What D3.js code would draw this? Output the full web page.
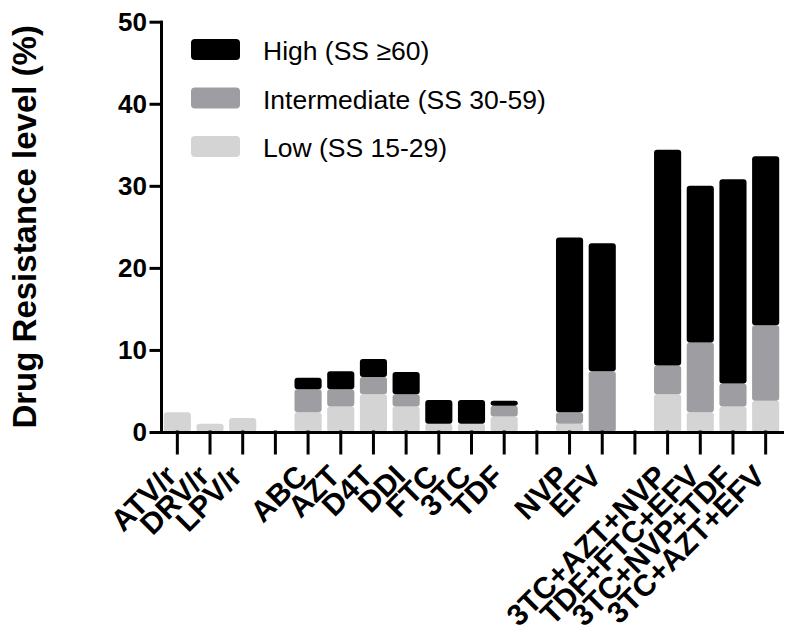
<!DOCTYPE html>
<html>
<head>
<meta charset="utf-8">
<script src="https://cdn.jsdelivr.net/npm/d3@7"></script>
<style>
  body { margin: 0; background: #fff; }
  svg { display: block; font-family: "Liberation Sans", Arial, sans-serif; }
</style>
</head>
<body>
<script>
// drug categories, "" marks an empty slot between drug classes
var categories = ["ATV/r", "DRV/r", "LPV/r", "",
                  "ABC", "AZT", "D4T", "DDI", "FTC", "3TC", "TDF", "",
                  "NVP", "EFV", "",
                  "3TC+AZT+NVP", "TDF+FTC+EFV", "3TC+NVP+TDF", "3TC+AZT+EFV"];

// resistance levels (%), stacked low -> intermediate -> high
var lowValues = [2.4, 1.0, 1.7, 0,
                 2.4, 3.1, 4.6, 3.1, 1.0, 1.0, 1.9, 0,
                 1.0, 0, 0,
                 4.6, 2.4, 3.1, 3.8];
var intermediateValues = [0, 0, 0, 0,
                          2.8, 2.1, 2.1, 1.5, 0, 0, 1.3, 0,
                          1.4, 7.4, 0,
                          3.5, 8.5, 2.8, 9.2];
var highValues = [0, 0, 0, 0,
                  1.4, 2.2, 2.2, 2.7, 2.9, 2.9, 0.6, 0,
                  21.3, 15.6, 0,
                  26.3, 19.1, 24.9, 20.6];

var yTicks = [0, 10, 20, 30, 40, 50];

var levelKeys = ["low", "intermediate", "high"];
var legendLabels = ["High (SS \u226560)", "Intermediate (SS 30-59)", "Low (SS 15-29)"];
var legendKeys = ["high", "intermediate", "low"];

// set properties for the graph
var w = 800;
var h = 637;
var start_w = 161;
var end_w = 782;
var start_h = 21.7;
var end_h = 432;
var colors = {"low": "#d4d4d4", "intermediate": "#9d9da2", "high": "#000000"};

window.onload = function() {

  var table = categories.map(function(c, i) {
    return {
      "slot": i,
      "name": c,
      "low": lowValues[i],
      "intermediate": intermediateValues[i],
      "high": highValues[i]
    };
  });

  var scales = scale();
  drawChart(table, scales[0], scales[1]);
};


function scale() {
  // one band per slot, gaps included
  var xScale = d3.scaleBand()
                 .domain(d3.range(categories.length))
                 .range([start_w, end_w])
                 .padding(0);

  var yScale = d3.scaleLinear()
                 .domain([0, 50])
                 .range([end_h, start_h]);

  return [xScale, yScale];
}


function drawChart(table, xScale, yScale) {

  var svg = d3.select("body")
              .append("svg")
              .attr("width", w)
              .attr("height", h);

  // stacked bars
  var series = d3.stack().keys(levelKeys)(table);
  var barW = xScale.bandwidth() * 0.83;

  svg.append("g")
     .selectAll("g")
     .data(series)
     .enter()
     .append("g")
     .attr("fill", function(d) { return colors[d.key]; })
     .selectAll("rect")
     .data(function(d) { return d.filter(function(p) { return p[1] - p[0] > 0; }); })
     .enter()
     .append("rect")
     .attr("x", function(d) { return xScale(d.data.slot) + (xScale.bandwidth() - barW) / 2; })
     .attr("y", function(d) { return yScale(d[1]); })
     .attr("width", barW)
     .attr("height", function(d) { return yScale(d[0]) - yScale(d[1]); })
     .attr("rx", 3);

  // y axis
  var yAxis = d3.axisLeft(yScale)
                .tickValues(yTicks)
                .tickSize(10)
                .tickSizeOuter(0)
                .tickPadding(4);

  var gy = svg.append("g")
              .attr("transform", "translate(" + start_w + ",0)")
              .call(yAxis);

  gy.selectAll("text")
    .attr("font-size", 26)
    .attr("font-weight", "bold")
    .attr("fill", "#000")
    .attr("font-family", "Liberation Sans, Arial, sans-serif");

  // x axis, ticks at every slot
  var xAxis = d3.axisBottom(xScale)
                .tickSize(21)
                .tickSizeOuter(0)
                .tickFormat(function(i) { return categories[i]; });

  var gx = svg.append("g")
              .attr("transform", "translate(0," + end_h + ")")
              .call(xAxis);

  gx.selectAll("text")
    .attr("font-size", 30)
    .attr("font-weight", "bold")
    .attr("fill", "#000")
    .attr("font-family", "Liberation Sans, Arial, sans-serif")
    .attr("text-anchor", "end")
    .attr("dy", 0)
    .attr("y", 0)
    .attr("transform", "translate(1,46) rotate(-45)");

  svg.selectAll(".domain, .tick line")
     .attr("stroke", "#000")
     .attr("stroke-width", 3)
     .attr("stroke-linecap", "square");

  // y axis title
  svg.append("text")
     .attr("transform", "translate(36," + (end_h + start_h) / 2 + ") rotate(-90)")
     .attr("text-anchor", "middle")
     .attr("font-size", 33)
     .attr("font-weight", "bold")
     .text("Drug Resistance level (%)");

  // legend
  var legend = svg.append("g")
                  .selectAll("g")
                  .data(legendKeys)
                  .enter()
                  .append("g")
                  .attr("transform", function(d, i) { return "translate(191," + (39 + i * 48.5) + ")"; });

  legend.append("rect")
        .attr("width", 49)
        .attr("height", 21)
        .attr("rx", 4)
        .attr("fill", function(d) { return colors[d]; });

  legend.append("text")
        .attr("x", 72)
        .attr("y", 21)
        .attr("font-size", 26.5)
        .text(function(d, i) { return legendLabels[i]; });
}
</script>
</body>
</html>
